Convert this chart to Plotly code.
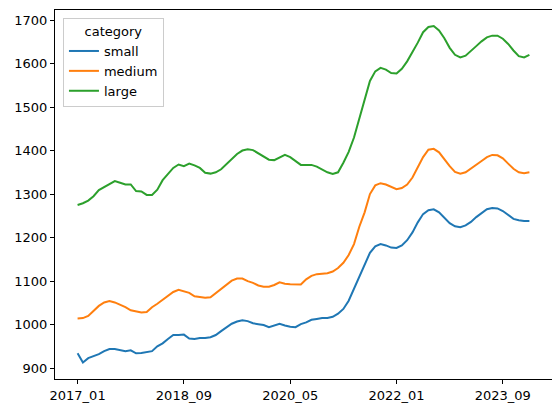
import plotly.graph_objects as go

months = [f"{2017 + (i // 12)}_{(i % 12) + 1:02d}" for i in range(86)]

small = [934, 913, 923, 927, 932, 939, 944, 944, 942, 939,
         941, 934, 935, 937, 939, 950, 957, 967, 976, 976,
         977, 968, 967, 969, 969, 971, 976, 985, 993, 1002,
         1007, 1010, 1008, 1003, 1001, 999, 994, 998, 1002, 998,
         995, 994, 1001, 1005, 1011, 1013, 1015, 1015, 1018, 1025,
         1036, 1055, 1082, 1112, 1140, 1165, 1180, 1185, 1182, 1177,
         1176, 1182, 1194, 1212, 1235, 1254, 1263, 1265, 1258, 1245,
         1233, 1226, 1224, 1228, 1236, 1247, 1257, 1265, 1268, 1267,
         1261, 1252, 1243, 1240, 1238, 1238]

medium = [1014, 1015, 1020, 1032, 1043, 1051, 1054, 1051, 1046, 1040,
          1033, 1031, 1028, 1029, 1040, 1048, 1057, 1067, 1075, 1080,
          1076, 1073, 1065, 1063, 1062, 1063, 1073, 1081, 1092, 1101,
          1106, 1106, 1100, 1096, 1090, 1087, 1087, 1091, 1097, 1094,
          1093, 1093, 1092, 1104, 1112, 1116, 1117, 1118, 1122, 1130,
          1142, 1160, 1185, 1225, 1258, 1300, 1320, 1325, 1322, 1316,
          1311, 1314, 1322, 1338, 1360, 1385, 1402, 1404, 1396, 1380,
          1364, 1351, 1347, 1350, 1358, 1366, 1376, 1385, 1390, 1389,
          1382, 1370, 1358, 1350, 1348, 1350]

large = [1275, 1279, 1285, 1295, 1309, 1316, 1324, 1330, 1326, 1322,
         1322, 1307, 1306, 1298, 1298, 1310, 1332, 1347, 1360, 1368,
         1364, 1370, 1366, 1360, 1349, 1347, 1350, 1357, 1368, 1380,
         1392, 1400, 1403, 1401, 1394, 1386, 1379, 1378, 1384, 1390,
         1385, 1377, 1367, 1367, 1367, 1363, 1357, 1350, 1346, 1350,
         1372, 1397, 1430, 1475, 1515, 1560, 1582, 1590, 1586, 1578,
         1577, 1588, 1605, 1625, 1648, 1672, 1684, 1686, 1676, 1658,
         1636, 1620, 1614, 1618, 1628, 1640, 1651, 1660, 1664, 1664,
         1657, 1645, 1630, 1617, 1614, 1620]

series_names = ["small", "medium", "large"]
series_values = [small, medium, large]
colors = ["#1f77b4", "#ff7f0e", "#2ca02c"]

tick_labels = [months[i] for i in range(0, len(months), 20)]
y_ticks = [900, 1000, 1100, 1200, 1300, 1400, 1500, 1600, 1700]

fig = go.Figure()
for name, vals, c in zip(series_names, series_values, colors):
    fig.add_trace(go.Scatter(x=months, y=vals, mode="lines", name=name,
                             line=dict(color=c, width=2)))

axis_common = dict(showgrid=False, zeroline=False, showline=True, linecolor="black",
                   linewidth=1, mirror=True, ticks="outside", ticklen=4, tickwidth=1,
                   tickcolor="black", tickfont=dict(size=13, color="black"))

fig.update_layout(
    width=552, height=405,
    margin=dict(l=47, r=8, t=2, b=34),
    paper_bgcolor="white", plot_bgcolor="white",
    font=dict(family="DejaVu Sans", size=13, color="black"),
    xaxis=dict(type="category", range=[-4.25, 89.25], tickmode="array",
               tickvals=tick_labels, ticktext=tick_labels, **axis_common),
    yaxis=dict(range=[875, 1723], tickmode="array", tickvals=y_ticks, **axis_common),
    legend=dict(x=0.016, y=0.978, xanchor="left", yanchor="top",
                bordercolor="#cccccc", borderwidth=1, bgcolor="rgba(255,255,255,0.8)",
                title=dict(text="category", side="top center", font=dict(size=13)),
                font=dict(size=13), tracegroupgap=0, itemwidth=30),
    showlegend=True,
)

fig.write_html("out.html")
